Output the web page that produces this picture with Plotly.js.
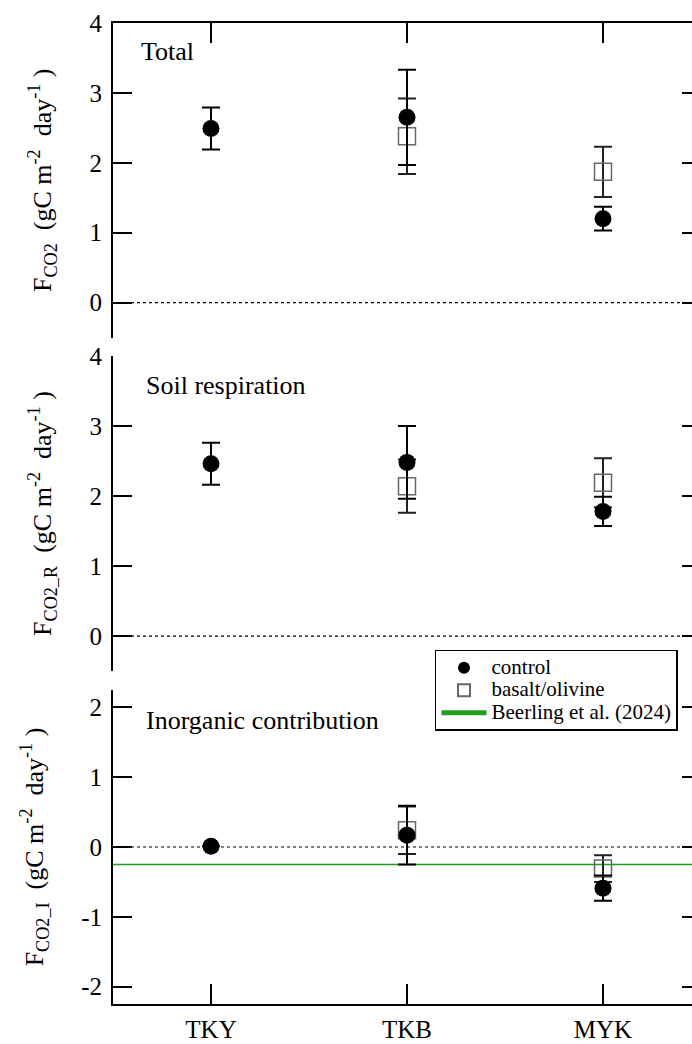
<!DOCTYPE html>
<html><head><meta charset="utf-8">
<script src="https://cdn.plot.ly/plotly-3.0.1.min.js"></script>
<style>html,body{margin:0;padding:0;overflow:hidden;background:#fff}#chart{width:720px;height:1044px}</style>
</head><body><div id="chart"></div>
<script>
// ---- data ----
const sites = ['TKY', 'TKB', 'MYK'];

const totalControl    = [2.49, 2.65, 1.20];
const totalControlErr = [0.30, 0.68, 0.17];
const totalBasalt     = [null, 2.38, 1.87];
const totalBasaltErr  = [null, 0.54, 0.36];

const soilControl     = [2.46, 2.48, 1.78];
const soilControlErr  = [0.30, 0.52, 0.21];
const soilBasalt      = [null, 2.14, 2.19];
const soilBasaltErr   = [null, 0.38, 0.35];

const inorgControl    = [0.01, 0.17, -0.59];
const inorgControlErr = [null, 0.42, 0.18];
const inorgBasalt     = [null, 0.24, -0.31];
const inorgBasaltErr  = [null, 0.34, 0.19];

const beerlingValue = -0.25;

const ticksUpper = [0, 1, 2, 3, 4];
const ticksUpperText = ['0', '1', '2', '3', '4'];
const ticksLower = [-2, -1, 0, 1, 2];
const ticksLowerText = ['-2', '-1', '0', '1', '2'];

const panelLabels = ['Total', 'Soil respiration', 'Inorganic contribution'];
const yTitles = [
  'F<sub>CO2</sub>  (gC m<sup>-2</sup>  day<sup>-1</sup> )',
  'F<sub>CO2_R</sub>  (gC m<sup>-2</sup>  day<sup>-1</sup> )',
  'F<sub>CO2_I</sub>  (gC m<sup>-2</sup>  day<sup>-1</sup> )'
];
const legendNames = ['control', 'basalt/olivine', 'Beerling et al. (2024)'];

// ---- styling ----
const FONT = "'Liberation Serif', 'Times New Roman', serif";
const GREEN = '#1f9e1f';
const big = s => '<span style="font-size:21px">' + s + '</span>';

function basaltTrace(y, err, ax, showleg) {
  return {
    x: sites, y: y, type: 'scatter', mode: 'markers',
    xaxis: 'x' + ax, yaxis: 'y' + ax,
    name: big(legendNames[1]), legendgroup: 'b', legendrank: 2, showlegend: showleg,
    marker: {symbol: 'square-open', size: 17, color: '#666', line: {width: 1.5, color: '#666'}},
    error_y: {type: 'data', array: err, visible: true, color: '#222', thickness: 2, width: 9},
    hoverinfo: 'skip'
  };
}
function controlTrace(y, err, ax, showleg) {
  return {
    x: sites, y: y, type: 'scatter', mode: 'markers',
    xaxis: 'x' + ax, yaxis: 'y' + ax,
    name: big(legendNames[0]), legendgroup: 'c', legendrank: 1, showlegend: showleg,
    marker: {symbol: 'circle', size: 17, color: '#000', line: {width: 0}},
    error_y: {type: 'data', array: err, visible: true, color: '#000', thickness: 2, width: 9},
    hoverinfo: 'skip'
  };
}

const data = [
  basaltTrace(totalBasalt, totalBasaltErr, '', true),
  controlTrace(totalControl, totalControlErr, '', true),
  basaltTrace(soilBasalt, soilBasaltErr, '2', false),
  controlTrace(soilControl, soilControlErr, '2', false),
  basaltTrace(inorgBasalt, inorgBasaltErr, '3', false),
  controlTrace(inorgControl, inorgControlErr, '3', false),
  // legend entry for the Beerling reference line (the line itself is a layout shape spanning the axis)
  {x: sites, y: [null, null, null], type: 'scatter', mode: 'lines', xaxis: 'x3', yaxis: 'y3',
   name: big(legendNames[2]), legendrank: 3, showlegend: true,
   line: {color: GREEN, width: 1.5}, hoverinfo: 'skip'}
];

function yax(domain, range, tv, tt, title, anchor) {
  return {
    domain: domain, range: range, tickvals: tv, ticktext: tt, anchor: anchor,
    ticks: 'inside', ticklen: 19, tickwidth: 2, tickcolor: '#000',
    showline: true, linewidth: 2, linecolor: '#000', mirror: 'ticks',
    showgrid: false, zeroline: false, fixedrange: true,
    tickfont: {family: FONT, size: 25, color: '#000'}, ticklabelstandoff: 4,
    title: {text: title, font: {family: FONT, size: 26, color: '#000'}, standoff: 30}
  };
}
const xbase = {type: 'category', categoryarray: sites, range: [-0.5, 2.5], showgrid: false, zeroline: false, fixedrange: true};

const layout = {
  width: 720, height: 1044,
  margin: {l: 113, r: 19, t: 23, b: 40},
  paper_bgcolor: '#fff', plot_bgcolor: '#fff',
  font: {family: FONT, color: '#000'},
  showlegend: true,
  xaxis: Object.assign({}, xbase, {anchor: 'y', side: 'top', ticks: 'inside', ticklen: 20, tickwidth: 2, tickcolor: '#000', showline: true, linewidth: 2, linecolor: '#000', showticklabels: false}),
  xaxis2: Object.assign({}, xbase, {anchor: 'y2', showline: false, ticks: '', showticklabels: false}),
  xaxis3: Object.assign({}, xbase, {anchor: 'y3', side: 'bottom', ticks: 'inside', ticklen: 20, tickwidth: 2, tickcolor: '#000', showline: true, linewidth: 2, linecolor: '#000', tickfont: {family: FONT, size: 25, color: '#000'}, ticklabelstandoff: 2}),
  yaxis: yax([0.6794, 1], [-0.5, 4], ticksUpper, ticksUpperText, yTitles[0], 'x'),
  yaxis2: yax([0.3394, 0.6606], [-0.5, 4], ticksUpper, ticksUpperText, yTitles[1], 'x2'),
  yaxis3: yax([0, 0.3201], [-2.25, 2.25], ticksLower, ticksLowerText, yTitles[2], 'x3'),
  legend: {
    x: 0.5476, y: 0.3609, xanchor: 'left', yanchor: 'top',
    bgcolor: '#fff', bordercolor: '#000', borderwidth: 1.5,
    font: {family: FONT, size: 15, color: '#000'},
    itemsizing: 'constant', itemwidth: 45, traceorder: 'normal'
  },
  shapes: [
    {type: 'line', xref: 'x domain', yref: 'y', x0: 0, x1: 1, y0: 0, y1: 0, layer: 'below', line: {color: '#000', width: 1.2, dash: 'dot'}},
    {type: 'line', xref: 'x2 domain', yref: 'y2', x0: 0, x1: 1, y0: 0, y1: 0, layer: 'below', line: {color: '#000', width: 1.2, dash: 'dot'}},
    {type: 'line', xref: 'x3 domain', yref: 'y3', x0: 0, x1: 1, y0: 0, y1: 0, layer: 'below', line: {color: '#000', width: 1.2, dash: 'dot'}},
    {type: 'line', xref: 'x3 domain', yref: 'y3', x0: 0, x1: 1, y0: beerlingValue, y1: beerlingValue, layer: 'below',
     line: {color: GREEN, width: 1.5}}
  ],
  annotations: [
    {xref: 'x domain', yref: 'y domain', x: 0.044, y: 0.908, xanchor: 'left', yanchor: 'middle', showarrow: false, text: panelLabels[0], font: {family: FONT, size: 26, color: '#000'}},
    {xref: 'x2 domain', yref: 'y2 domain', x: 0.053, y: 0.905, xanchor: 'left', yanchor: 'middle', showarrow: false, text: panelLabels[1], font: {family: FONT, size: 26, color: '#000'}},
    {xref: 'x3 domain', yref: 'y3 domain', x: 0.053, y: 0.904, xanchor: 'left', yanchor: 'middle', showarrow: false, text: panelLabels[2], font: {family: FONT, size: 26, color: '#000'}}
  ]
};

Plotly.newPlot('chart', data, layout, {staticPlot: true, displayModeBar: false});
</script>
</body></html>
